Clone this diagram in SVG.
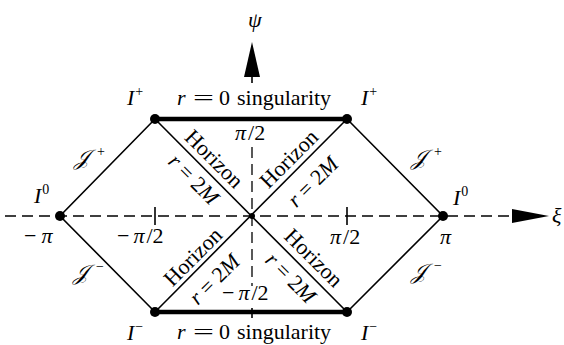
<svg xmlns="http://www.w3.org/2000/svg" width="564" height="345" viewBox="0 0 564 345">
<style>
text{font-family:"Liberation Serif","DejaVu Serif",serif;fill:#000}
.t{font-size:22px}
.i{font-style:italic}
.s{font-size:14px;font-style:normal}
.thin{stroke:#000;stroke-width:1.6;fill:none}
.thick{stroke:#000;stroke-width:4.5;fill:none}
.dash{stroke:#000;stroke-width:1.3;stroke-dasharray:11 6;fill:none}
.lab{font-size:22px;text-anchor:middle}
</style>
<rect width="564" height="345" fill="#fff"/>
<g id="connectors">
<line class="dash" x1="5" y1="216" x2="512" y2="216"/>
<polygon points="549,216 512,209 512,223" fill="#000"/>
<line class="dash" x1="252" y1="147" x2="252" y2="286"/>
<polygon points="252,42 244,77 260,77" fill="#000"/>
<line class="thin" x1="252" y1="76" x2="252" y2="83"/>
<line class="thin" x1="155" y1="207" x2="155" y2="225"/>
<line class="thin" x1="347" y1="207" x2="347" y2="225"/>
<line class="thin" x1="252" y1="308" x2="252" y2="318"/>
<polyline class="thin" points="155,119 60,216 155,312"/>
<polyline class="thin" points="347,119 443,216 347,312"/>
<line class="thin" x1="155" y1="119" x2="347" y2="312"/>
<line class="thin" x1="347" y1="119" x2="155" y2="312"/>
<line class="thick" x1="155" y1="119" x2="347" y2="119"/>
<line class="thick" x1="155" y1="312" x2="347" y2="312"/>
</g>
<g id="I0-left"><circle cx="60" cy="216" r="5"/><text class="t i" x="34" y="203">I<tspan class="s" dx="1" dy="-9">0</tspan></text></g>
<g id="I0-right"><circle cx="443" cy="216" r="5"/><text class="t i" x="453" y="205">I<tspan class="s" dx="1" dy="-9">0</tspan></text></g>
<g id="Iplus-left"><circle cx="155" cy="119" r="5"/><text class="t i" x="127" y="105">I<tspan class="s" dx="1" dy="-9">+</tspan></text></g>
<g id="Iplus-right"><circle cx="347" cy="119" r="5"/><text class="t i" x="361" y="105">I<tspan class="s" dx="1" dy="-9">+</tspan></text></g>
<g id="Iminus-left"><circle cx="155" cy="312" r="5"/><text class="t i" x="127" y="340">I<tspan class="s" dx="1" dy="-9">−</tspan></text></g>
<g id="Iminus-right"><circle cx="347" cy="312" r="5"/><text class="t i" x="361" y="340">I<tspan class="s" dx="1" dy="-9">−</tspan></text></g>
<g id="center"><circle cx="252" cy="216" r="3"/></g>
<g id="singularity-top"><text class="t i" x="177" y="105">r</text><text class="t" x="193" y="105" textLength="21" lengthAdjust="spacingAndGlyphs">=</text><text class="t" x="219" y="105">0</text><text class="t" x="237" y="105">singularity</text></g>
<g id="singularity-bottom"><text class="t i" x="177" y="339">r</text><text class="t" x="193" y="339" textLength="21" lengthAdjust="spacingAndGlyphs">=</text><text class="t" x="219" y="339">0</text><text class="t" x="237" y="339">singularity</text></g>
<g id="scri"><text class="t i" x="74" y="165">𝒥<tspan class="s" x="97" dy="-9">+</tspan></text>
<text class="t i" x="411" y="165">𝒥<tspan class="s" x="434" dy="-9">+</tspan></text>
<text class="t i" x="73" y="280">𝒥<tspan class="s" x="96" dy="-9">−</tspan></text>
<text class="t i" x="411" y="279">𝒥<tspan class="s" x="434" dy="-9">−</tspan></text></g>
<g id="axis-labels">
<text class="t i" x="248" y="27">ψ</text>
<text class="t i" x="552" y="223">ξ</text>
<text class="t" x="24" y="243">−<tspan class="i" dx="5">π</tspan></text>
<text class="t" x="117" y="243">−<tspan class="i" dx="4">π</tspan><tspan dx="2">/2</tspan></text>
<text class="t" x="330" y="244"><tspan class="i">π</tspan><tspan dx="2">/2</tspan></text>
<text class="t i" x="440" y="244">π</text>
<text class="t" x="235" y="140"><tspan class="i">π</tspan><tspan dx="2">/2</tspan></text>
<text class="t" x="222" y="300">−<tspan class="i" dx="4">π</tspan><tspan dx="2">/2</tspan></text>
</g>
<g id="horizons">
<text class="lab" transform="translate(214.5,158.5) rotate(45)" dy="0.35em">Horizon</text>
<text class="lab" transform="translate(194,179) rotate(45)" dy="0.35em"><tspan class="i">r</tspan> = 2<tspan class="i">M</tspan></text>
<text class="lab" transform="translate(288.5,158.5) rotate(-45)" dy="0.35em">Horizon</text>
<text class="lab" transform="translate(312.5,181.5) rotate(-45)" dy="0.35em"><tspan class="i">r</tspan> = 2<tspan class="i">M</tspan></text>
<text class="lab" transform="translate(192.5,256.5) rotate(-45)" dy="0.35em">Horizon</text>
<text class="lab" transform="translate(214,279) rotate(-45)" dy="0.35em"><tspan class="i">r</tspan> = 2<tspan class="i">M</tspan></text>
<text class="lab" transform="translate(314,257.5) rotate(45)" dy="0.35em">Horizon</text>
<text class="lab" transform="translate(291,277.5) rotate(45)" dy="0.35em"><tspan class="i">r</tspan> = 2<tspan class="i">M</tspan></text>
</g>
</svg>
